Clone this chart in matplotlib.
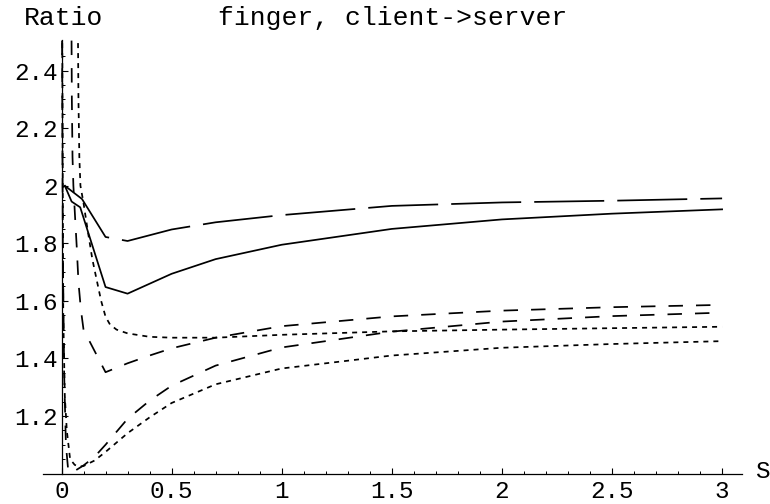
import matplotlib
matplotlib.use("Agg")
import matplotlib.pyplot as plt
from matplotlib.ticker import FixedLocator, FixedFormatter

# ---------------- data ----------------
# curve A : long dashes (top)
a_x = [0.015, 0.093, 0.2, 0.3, 0.5, 0.7, 1.0, 1.5, 2.0, 2.5, 3.0]
a_y = [2.0, 1.954, 1.822, 1.808, 1.848, 1.873, 1.898, 1.930, 1.942, 1.948, 1.956]

# curve B : solid
b_x = [0.015, 0.046, 0.085, 0.2, 0.3, 0.5, 0.7, 1.0, 1.5, 2.0, 2.5, 3.0]
b_y = [2.0, 1.945, 1.925, 1.648, 1.625, 1.694, 1.745, 1.795, 1.850, 1.883, 1.903, 1.918]

# curve C : dotted (upper, ends ~1.51)
c_x = [0.074, 0.077, 0.081, 0.086, 0.1, 0.12, 0.14, 0.16, 0.18, 0.2, 0.22, 0.25,
       0.3, 0.4, 0.5, 0.7, 1.0, 1.5, 2.0, 2.5, 3.0]
c_y = [2.6, 2.3, 2.1, 2.0, 1.94, 1.84, 1.745, 1.672, 1.60, 1.545, 1.518, 1.50,
       1.487, 1.475, 1.472, 1.472, 1.482, 1.494, 1.500, 1.505, 1.510]

# curve D : medium dashes (upper, ends ~1.59)
d_x = [0.045, 0.047, 0.05, 0.054, 0.061, 0.069, 0.077, 0.088, 0.1, 0.2, 0.3, 0.4,
       0.5, 0.7, 1.0, 1.5, 2.0, 2.5, 3.0]
d_y = [2.6, 2.3, 2.1, 2.0, 1.9, 1.79, 1.665, 1.57, 1.50, 1.352, 1.383, 1.41,
       1.435, 1.472, 1.512, 1.546, 1.566, 1.578, 1.586]

# curve E : medium dashes (lower, ends ~1.56)
e_x = [0.002, 0.006, 0.012, 0.02, 0.031, 0.05, 0.1, 0.15, 0.2, 0.3, 0.4, 0.5,
       0.7, 1.0, 1.5, 2.0, 2.5, 3.0]
e_y = [2.6, 1.8, 1.35, 1.10, 1.006, 1.004, 1.028, 1.058, 1.10, 1.19, 1.253, 1.305,
       1.375, 1.438, 1.493, 1.528, 1.547, 1.559]

# curve F : dotted (lower, ends ~1.46)
f_x = [0.003, 0.008, 0.015, 0.024, 0.039, 0.06, 0.08, 0.1, 0.15, 0.2, 0.3, 0.4,
       0.5, 0.7, 1.0, 1.5, 2.0, 2.5, 3.0]
f_y = [2.6, 1.55, 1.27, 1.15, 1.05, 1.03, 1.024, 1.026, 1.045, 1.075, 1.14, 1.195,
       1.245, 1.31, 1.365, 1.41, 1.437, 1.45, 1.46]

x_ticks = [0, 0.5, 1, 1.5, 2, 2.5, 3]
x_tick_labels = ["0", "0.5", "1", "1.5", "2", "2.5", "3"]
y_ticks = [1.2, 1.4, 1.6, 1.8, 2.0, 2.2, 2.4]
y_tick_labels = ["1.2", "1.4", "1.6", "1.8", "2", "2.2", "2.4"]

title_text = "finger, client->server"
y_label = "Ratio"
x_label = "S"

# ---------------- layout ----------------
plt.rcParams['lines.scale_dashes'] = False
FONT = "Liberation Mono"
FS_TICK = 17.5
FS_TEXT = 19

W, H = 770, 504
fig = plt.figure(figsize=(W / 100, H / 100), dpi=100)

XL = (-0.084, 3.09)
YL = (0.97, 2.507)
# pixel mapping
x0px, xscale = 61.5, 220.2
y1px, yscale = 473.5, 287.75
left_px = x0px + XL[0] * xscale
right_px = x0px + XL[1] * xscale
bot_px = y1px - (YL[0] - 1) * yscale
top_px = y1px - (YL[1] - 1) * yscale
ax = fig.add_axes([left_px / W, 1 - bot_px / H,
                   (right_px - left_px) / W, (bot_px - top_px) / H])
ax.set_xlim(*XL)
ax.set_ylim(*YL)

lw = 1.25
long_dash = (0, (50.4, 9.4))
med_dash = (0, (10.4, 9.4))
dot = (0, (3.6, 3.6))

ax.plot(a_x, a_y, color="black", lw=lw, linestyle=long_dash)
ax.plot(b_x, b_y, color="black", lw=lw, linestyle="-")
ax.plot(c_x, c_y, color="black", lw=lw, linestyle=dot)
ax.plot(d_x, d_y, color="black", lw=lw, linestyle=med_dash)
ax.plot(e_x, e_y, color="black", lw=lw, linestyle=med_dash)
ax.plot(f_x, f_y, color="black", lw=lw, linestyle=dot)

# Mathematica-style crossing axes
for s in ("top", "right"):
    ax.spines[s].set_visible(False)
ax.spines["left"].set_position(("data", 0))
ax.spines["bottom"].set_position(("data", 1))
ax.spines["left"].set_bounds(1.0, YL[1])
for s in ("left", "bottom"):
    ax.spines[s].set_linewidth(0.9)
    ax.spines[s].set_color("black")

ax.xaxis.set_major_locator(FixedLocator(x_ticks))
ax.xaxis.set_major_formatter(FixedFormatter(x_tick_labels))
ax.yaxis.set_major_locator(FixedLocator(y_ticks))
ax.yaxis.set_major_formatter(FixedFormatter(y_tick_labels))
minor_x = [i / 10 for i in range(1, 31) if i % 5 != 0]
minor_y = [1 + i * 0.05 for i in range(1, 30) if i % 4 != 0]
ax.xaxis.set_minor_locator(FixedLocator(minor_x))
ax.yaxis.set_minor_locator(FixedLocator(minor_y))

ax.tick_params(axis="both", which="major", direction="in", length=4.3, width=0.8,
               color="black", labelsize=FS_TICK)
ax.tick_params(axis="both", which="minor", direction="in", length=2.2, width=0.7,
               color="black")
ax.tick_params(axis="x", which="major", pad=5.0)
ax.tick_params(axis="y", which="major", pad=3.0)
for lab in ax.get_xticklabels() + ax.get_yticklabels():
    lab.set_fontfamily(FONT)

fig.text(63.5 / W, 1 - 25 / H, y_label, fontfamily=FONT, fontsize=FS_TEXT,
         ha="center", va="baseline")
fig.text(393 / W, 1 - 25 / H, title_text, fontfamily=FONT, fontsize=FS_TEXT,
         ha="center", va="baseline")
fig.text(755 / W, 1 - 478.5 / H, x_label, fontfamily=FONT, fontsize=FS_TICK,
         ha="left", va="baseline")

fig.savefig("out.png", dpi=100)
